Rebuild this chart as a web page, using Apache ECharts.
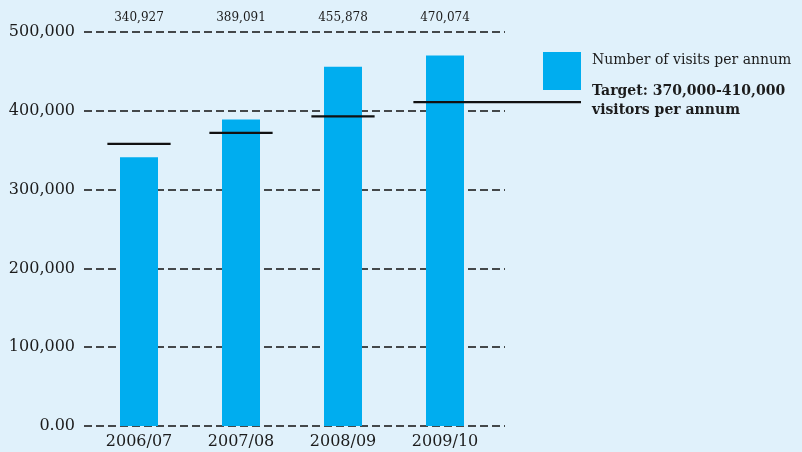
<!DOCTYPE html>
<html>
<head>
<meta charset="utf-8">
<style>
  html, body { margin: 0; padding: 0; background: #e0f1fb; }
  #chart { width: 802px; height: 452px; }
</style>
<script src="https://cdn.jsdelivr.net/npm/echarts@6/dist/echarts.min.js"></script>
</head>
<body>
<div id="chart"></div>
<script>
// Annual visit numbers and the target level for each year
const years = ['2006/07', '2007/08', '2008/09', '2009/10'];
const visits = [340927, 389091, 455878, 470074];
const targets = [358000, 372000, 393000, 411000];
const yTicks = [0, 100000, 200000, 300000, 400000, 500000];
const yTickLabels = ['0.00', '100,000', '200,000', '300,000', '400,000', '500,000'];
const visitLabels = visits.map(v => v.toLocaleString('en-US'));

const SERIF = '"DejaVu Serif", "Liberation Serif", serif';
const INK = '#1c1c1c';
const LEGEND_LEFT = 543;
const LEGEND_SIZE = 38;

const chart = echarts.init(document.getElementById('chart'));

const yRange = { min: yTicks[0], max: yTicks[yTicks.length - 1], interval: yTicks[1] - yTicks[0] };

chart.setOption({
  backgroundColor: '#e0f1fb',
  animation: false,
  grid: [
    // wide grid carrying the dashed reference lines and value labels
    { left: 84, right: 297, top: 32, bottom: 26 },
    // narrower grid carrying the bars
    { left: 88, right: 306, top: 32, bottom: 26 }
  ],
  legend: {
    data: ['Number of visits per annum'],
    left: LEGEND_LEFT,
    top: 52,
    padding: 0,
    icon: 'rect',
    itemWidth: LEGEND_SIZE,
    itemHeight: LEGEND_SIZE,
    itemGap: 0,
    selectedMode: false,
    formatter: name => '{t|' + name + '}',
    textStyle: {
      rich: {
        t: {
          fontFamily: SERIF,
          fontSize: 14,
          color: INK,
          padding: [0, 0, 22, 6]
        }
      }
    }
  },
  xAxis: [
    { gridIndex: 0, type: 'category', data: years, show: false },
    {
      gridIndex: 1, type: 'category', data: years, position: 'bottom',
      axisLine: { show: false }, axisTick: { show: false },
      axisLabel: { fontFamily: SERIF, fontSize: 16, color: INK, margin: 8 }
    },
    {
      gridIndex: 1, type: 'category', data: visitLabels, position: 'top',
      axisLine: { show: false }, axisTick: { show: false },
      axisLabel: { fontFamily: SERIF, fontSize: 12, color: INK, margin: 8 }
    }
  ],
  yAxis: [
    {
      gridIndex: 0, type: 'value', ...yRange,
      axisLine: { show: false }, axisTick: { show: false },
      axisLabel: {
        fontFamily: SERIF, fontSize: 16, color: INK, margin: 9,
        formatter: v => yTickLabels[yTicks.indexOf(v)]
      },
      splitLine: { lineStyle: { type: [8, 4], color: '#111', width: 1.5 } }
    },
    { gridIndex: 1, type: 'value', ...yRange, show: false, splitLine: { show: false } }
  ],
  series: [
    {
      name: 'Number of visits per annum',
      type: 'bar',
      xAxisIndex: 1,
      yAxisIndex: 1,
      data: visits,
      barWidth: 38,
      itemStyle: { color: '#00adef' },
      z: 2
    },
    {
      name: 'Target',
      type: 'custom',
      xAxisIndex: 1,
      yAxisIndex: 1,
      data: targets.map((t, i) => [i, t]),
      z: 3,
      renderItem: (params, api) => {
        const c = api.coord([api.value(0), api.value(1)]);
        const half = api.size([1, 0])[0] * 0.31;
        const last = params.dataIndex === targets.length - 1;
        // the latest target runs out to the legend swatch
        const x2 = last ? LEGEND_LEFT + LEGEND_SIZE : c[0] + half;
        return {
          type: 'line',
          shape: { x1: c[0] - half, y1: c[1], x2: x2, y2: c[1] },
          style: { stroke: '#111', lineWidth: 2.2 }
        };
      }
    }
  ],
  graphic: [
    {
      type: 'text',
      left: 592,
      top: 82,
      style: {
        text: 'Target: 370,000-410,000\nvisitors per annum',
        font: 'bold 14px ' + SERIF,
        lineHeight: 19,
        fill: INK
      }
    }
  ]
});
</script>
</body>
</html>
